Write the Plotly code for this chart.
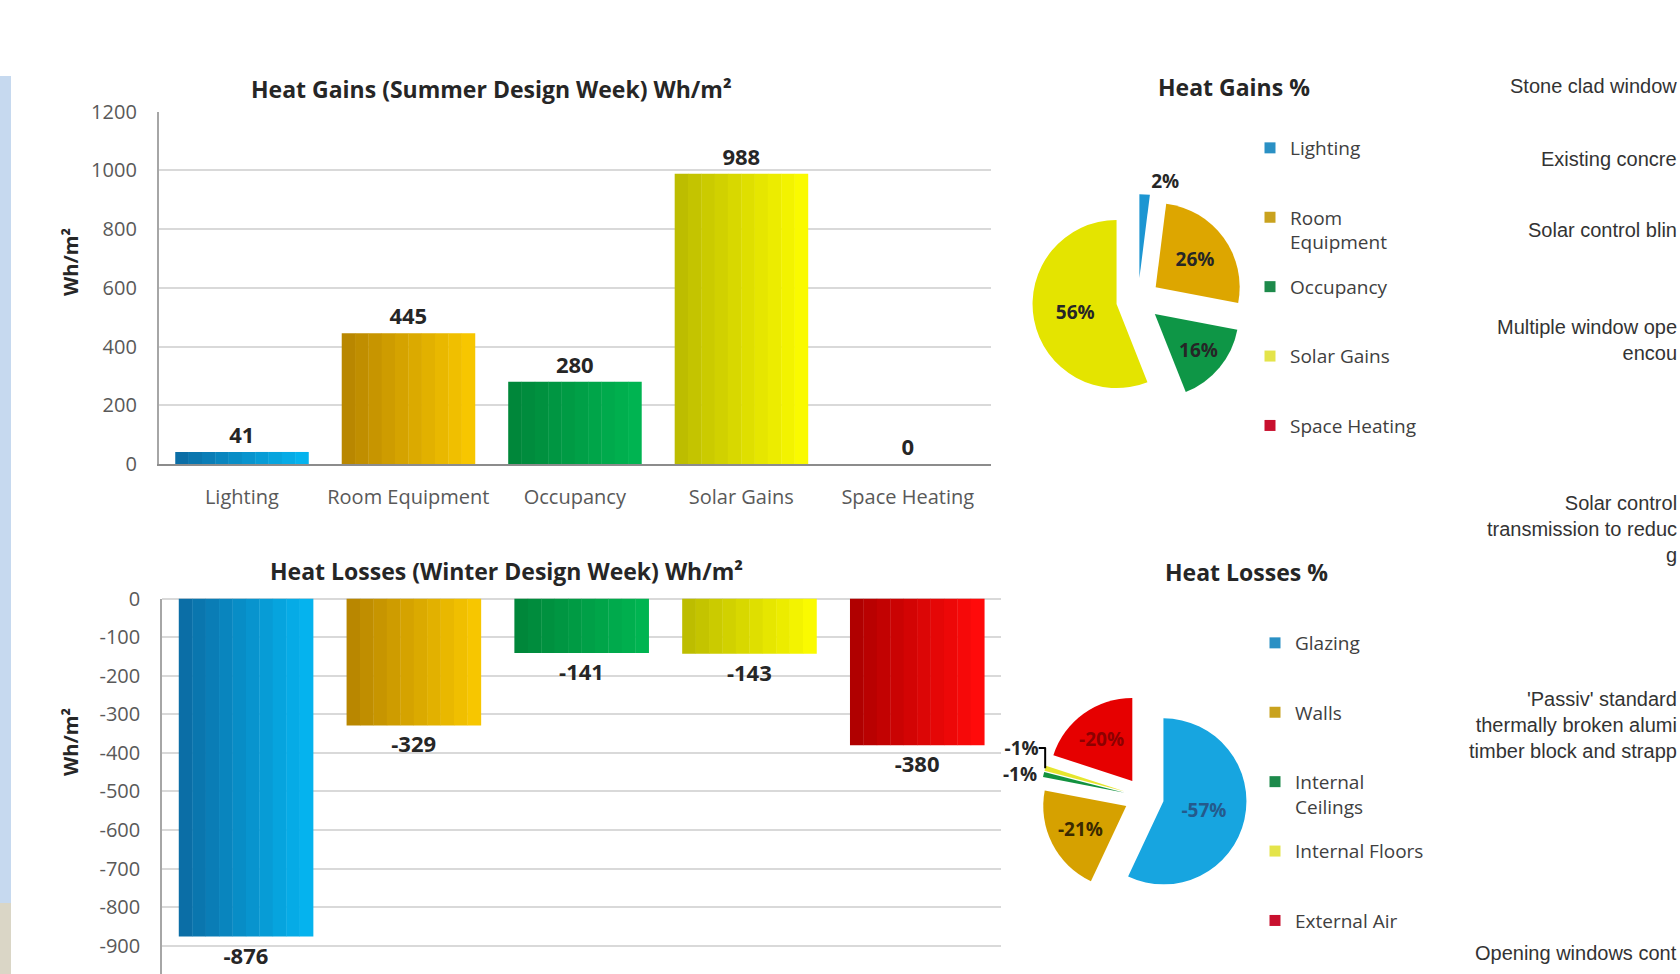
import plotly.graph_objects as go

# ---------------- data ----------------
gain_categories = ["Lighting", "Room Equipment", "Occupancy", "Solar Gains", "Space Heating"]
gain_values = [41, 445, 280, 988, 0]
gain_ticks = [0, 200, 400, 600, 800, 1000, 1200]

loss_categories = ["Glazing", "Walls", "Internal Ceilings", "Internal Floors", "External Air"]
loss_values = [-876, -329, -141, -143, -380]
loss_ticks = [0, -100, -200, -300, -400, -500, -600, -700, -800, -900]

gain_pct_values = [2, 26, 16, 56, 0]
gain_pct_labels = ["2%", "26%", "16%", "56%", ""]
gain_legend_labels = ["Lighting", "Room<br>Equipment", "Occupancy", "Solar Gains", "Space Heating"]

loss_pct_values = [57, 21, 1, 1, 20]
loss_pct_labels = ["-57%", "-21%", "-1%", "-1%", "-20%"]
loss_legend_labels = ["Glazing", "Walls", "Internal<br>Ceilings", "Internal Floors", "External Air"]

note_texts = [
    "Stone clad window",
    "Existing concre",
    "Solar control blin",
    "Multiple window ope<br>encou",
    "Solar control<br>transmission to reduc<br>g",
    "'Passiv' standard<br>thermally broken alumi<br>timber block and strapp",
    "Opening windows cont",
]

# ---------------- styles ----------------
W, H = 1680, 974
dark = ["#0b6ea6", "#b98700", "#00873a", "#bdbd00", "#b00000"]
light = ["#05b3ee", "#f7c600", "#00b451", "#fafa00", "#ff0a0a"]
gain_pie_colors = ["#1d96d2", "#dda600", "#0e9646", "#e4e400", "#c00000"]
loss_pie_colors = ["#17a5e0", "#d6a100", "#12923f", "#e6e62e", "#e60000"]
leg_colors = ["#2a90c4", "#c9a21e", "#1d8a4b", "#e4e44a", "#c8102e"]
FONT = "Open Sans"
TXT = "#404040"


def mix(c1, c2, t):
    a = [int(c1[i:i + 2], 16) for i in (1, 3, 5)]
    b = [int(c2[i:i + 2], 16) for i in (1, 3, 5)]
    return "#" + "".join("%02x" % round(a[j] + (b[j] - a[j]) * t) for j in range(3))


def py(px):
    return 1 - px / H


def pxx(px):
    return px / W


fig = go.Figure()

BW = 0.8
N = 10
for axes, cats, vals in (("1", gain_categories, gain_values), ("2", loss_categories, loss_values)):
    xa = "x" if axes == "1" else "x2"
    ya = "y" if axes == "1" else "y2"
    for k in range(N):
        t = k / (N - 1)
        fig.add_trace(go.Bar(
            x=cats, y=vals, xaxis=xa, yaxis=ya,
            width=BW / N + 0.002, offset=-BW / 2 + k * BW / N,
            marker=dict(color=[mix(dark[i], light[i], t) for i in range(len(cats))], line=dict(width=0)),
            showlegend=False, hoverinfo="skip",
        ))
    fig.add_trace(go.Bar(
        x=cats, y=vals, xaxis=xa, yaxis=ya, width=BW, offset=-BW / 2,
        marker=dict(color="rgba(0,0,0,0)", line=dict(width=0)),
        text=[str(v) for v in vals], textposition="outside", constraintext="none",
        textfont=dict(family=FONT, size=22, color="#262626", weight="bold"),
        cliponaxis=False, showlegend=False, hoverinfo="skip",
    ))


def pie_domain(cx, cy, r, pull):
    s = r * (1 + pull)
    return dict(x=[pxx(cx - s), pxx(cx + s)], y=[py(cy + s), py(cy - s)])


fig.add_trace(go.Pie(
    labels=gain_categories, values=gain_pct_values, text=gain_pct_labels, textinfo="text",
    textposition=["outside", "inside", "inside", "inside", "none"],
    insidetextorientation="horizontal",
    textfont=dict(family=FONT, size=19, color="#262626", weight="bold"),
    marker=dict(colors=gain_pie_colors, line=dict(width=0)),
    pull=[0.26] * 5, sort=False, direction="clockwise", rotation=0,
    domain=pie_domain(1138, 300, 84, 0.26), showlegend=False, hoverinfo="skip",
))
fig.add_trace(go.Pie(
    labels=loss_categories, values=loss_pct_values, text=loss_pct_labels, textinfo="text",
    textposition=["inside", "inside", "outside", "outside", "inside"],
    insidetextorientation="horizontal",
    textfont=dict(family=FONT, size=19, color=["#245a8c", "#3a2a00", "#262626", "#262626", "#8c0000"], weight="bold"),
    marker=dict(colors=loss_pie_colors, line=dict(width=0)),
    pull=[0.24] * 5, sort=False, direction="clockwise", rotation=0,
    domain=pie_domain(1144, 797, 83, 0.24), showlegend=False, hoverinfo="skip",
))

# legend entries (one per category so they can be spaced like the original)
for grp, labels, leg, xa, ya in (("g", gain_legend_labels, "legend", "x", "y"),
                                 ("l", loss_legend_labels, "legend2", "x2", "y2")):
    for i, lab in enumerate(labels):
        name = lab if ("<br>" in lab or i == len(labels) - 1) else lab + "<br>\u00a0"
        fig.add_trace(go.Scatter(x=[None], y=[None], mode="markers", name=name,
                                 marker=dict(symbol="square", size=11, color=leg_colors[i]),
                                 legend=leg, legendgroup="%s%d" % (grp, i), xaxis=xa, yaxis=ya))

leg_common = dict(xanchor="left", yanchor="top", bgcolor="rgba(0,0,0,0)",
                  font=dict(family=FONT, size=19, color=TXT), tracegroupgap=17,
                  valign="top", itemwidth=30, traceorder="grouped", itemclick=False)

annotations = [
    dict(text="Heat Gains (Summer Design Week) Wh/m²", x=pxx(491), y=py(89)),
    dict(text="Heat Losses (Winter Design Week) Wh/m²", x=pxx(506), y=py(571)),
    dict(text="Heat Gains %", x=pxx(1234), y=py(87)),
    dict(text="Heat Losses %", x=pxx(1246), y=py(572)),
]
annotations = [dict(a, xref="paper", yref="paper", showarrow=False, xanchor="center", yanchor="middle",
                    font=dict(family=FONT, size=23, color="#262626", weight="bold")) for a in annotations]
for yc in (262, 742):
    annotations.append(dict(text="Wh/m²", x=pxx(70), y=py(yc), xref="paper", yref="paper", showarrow=False,
                            xanchor="center", yanchor="middle",
                            textangle=-90, font=dict(family=FONT, size=20, color="#262626", weight="bold")))
note_y = [86, 159, 230, 340, 529, 725, 953]
for txt, yc in zip(note_texts, note_y):
    annotations.append(dict(text=txt, x=pxx(1679), y=py(yc), xref="paper", yref="paper", showarrow=False,
                            xanchor="right", yanchor="middle", align="right",
                            font=dict(family="Liberation Sans", size=20, color="#333333")))

shapes = [
    dict(type="rect", xref="paper", yref="paper", x0=0, x1=pxx(11), y0=py(903), y1=py(76),
         fillcolor="#c6d9ef", line=dict(width=0), layer="below"),
    dict(type="rect", xref="paper", yref="paper", x0=0, x1=pxx(11), y0=0, y1=py(903),
         fillcolor="#dad6c6", line=dict(width=0), layer="below"),
]

tickfont = dict(family=FONT, size=20, color="#595959")
fig.update_layout(
    width=W, height=H, autosize=False,
    margin=dict(l=0, r=0, t=0, b=0, autoexpand=False),
    paper_bgcolor="white", plot_bgcolor="white",
    barmode="overlay", hovermode=False,
    xaxis=dict(domain=[pxx(158.6), pxx(991)], anchor="y", type="category", range=[-0.5, 4.5],
               showgrid=False, showline=True, linecolor="#8c8c8c", linewidth=2, ticks="",
               tickfont=dict(family=FONT, size=20, color="#595959"), ticklabelstandoff=14,
               fixedrange=True, automargin=False),
    yaxis=dict(domain=[py(464), py(111.5)], anchor="x", range=[0, 1200],
               tickvals=gain_ticks, ticktext=[str(v) for v in gain_ticks],
               showgrid=True, gridcolor="#d9d9d9", gridwidth=1.5, zeroline=False,
               showline=True, linecolor="#a6a6a6", linewidth=1.5, ticks="", tickfont=tickfont,
               ticklabelstandoff=16, fixedrange=True, automargin=False),
    xaxis2=dict(domain=[pxx(162), pxx(1001)], anchor="y2", type="category", range=[-0.5, 4.5],
                showgrid=False, showline=False, showticklabels=False, ticks="", fixedrange=True,
                automargin=False),
    yaxis2=dict(domain=[0, py(598.5)], anchor="x2", range=[-973, 0],
                tickvals=loss_ticks, ticktext=[str(v) for v in loss_ticks],
                showgrid=True, gridcolor="#d9d9d9", gridwidth=1.5, zeroline=True, zerolinecolor="#d9d9d9",
                showline=True, linecolor="#a6a6a6", linewidth=1.5, ticks="", tickfont=tickfont,
                ticklabelstandoff=16, fixedrange=True, automargin=False),
    legend=dict(leg_common, x=pxx(1250), y=py(129)),
    legend2=dict(leg_common, x=pxx(1255), y=py(624)),
    annotations=annotations,
    shapes=shapes,
)

post = ("var gd=document.getElementById('{plot_id}');"
        "document.documentElement.style.margin='0';document.body.style.margin='0';"
        "document.documentElement.style.overflow='hidden';document.body.style.overflow='hidden';"
        "gd.style.position='absolute';gd.style.left='0px';gd.style.top='0px';")

fig.write_html("out.html", config={"displayModeBar": False}, post_script=post)
